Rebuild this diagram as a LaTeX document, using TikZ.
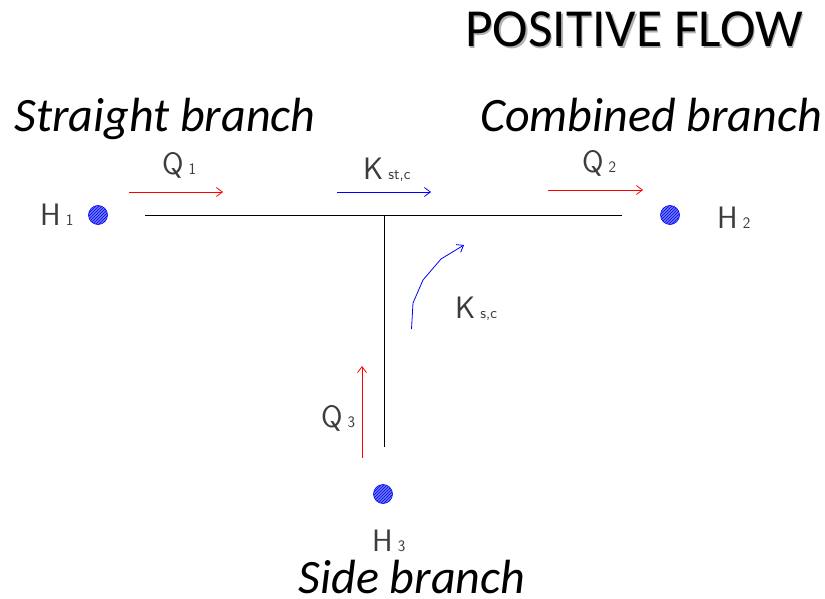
\documentclass[tikz,border=0pt]{standalone}
\usepackage{fontspec}
\setmainfont{Carlito}
\usetikzlibrary{arrows.meta,patterns}
\definecolor{dotblue}{RGB}{110,120,240}
\definecolor{cadgray}{RGB}{60,60,60}
\tikzset{
  pipe/.style={draw=black, line width=1pt},
  flowred/.style={draw=red, line width=0.8pt, -{Straight Barb[length=6pt,width=9pt]}},
  flowblue/.style={draw=blue, line width=0.8pt, -{Straight Barb[length=6pt,width=9pt]}},
  dot/.style={circle, draw=blue, fill=dotblue, minimum size=19pt, inner sep=0pt, line width=0.6pt,
    postaction={pattern=north east lines, pattern color=blue}},
  cad/.style={font=\sffamily\fontsize{31}{31}\selectfont, text=cadgray, inner sep=0pt},
  branch/.style={font=\itshape\fontsize{48}{48}\selectfont, inner sep=0pt},
}
\newcommand{\sbs}[1]{\hspace{5pt}{\fontsize{16}{16}\selectfont #1}}
\begin{document}
\begin{tikzpicture}[x=1pt,y=-1pt]
\useasboundingbox (0,0) rectangle (825,599);
% title with shadow
\node[font=\fontsize{53.5}{53.5}\selectfont, text=gray!60, inner sep=0pt, anchor=base] (titleshadow) at (635.5,48.5) {POSITIVE FLOW};
\node[font=\fontsize{53.5}{53.5}\selectfont, inner sep=0pt, anchor=base] (title) at (634,47) {POSITIVE FLOW};
% branch names
\node[branch, anchor=base] (straight) at (165,132) {Straight branch};
\node[branch, anchor=base] (combined) at (651,132) {Combined branch};
\node[branch, anchor=base, text depth=0pt] (side) at (412,593) {Side branch};
% pipes
\coordinate (pl) at (145,215);
\coordinate (pr) at (622,215);
\coordinate (tj) at (384,215);
\coordinate (pb) at (384,447);
\draw[pipe] (pl) -- (pr);
\draw[pipe] (tj) -- (pb);
% dots
\node[dot] (d1) at (98,215) {};
\node[dot] (d2) at (670,215) {};
\node[dot] (d3) at (383,494) {};
% H labels
\node[cad, anchor=base west] (h1) at (40,225) {H\sbs{1}};
\node[cad, anchor=base west] (h2) at (717,228) {H\sbs{2}};
\node[cad, anchor=base west] (h3) at (372,551) {H\sbs{3}};
% Q labels
\node[cad, anchor=base west] (q1) at (162,175) {Q\sbs{1}};
\node[cad, anchor=base west] (q2) at (582,173) {Q\sbs{2}};
\node[cad, anchor=base west] (q3) at (321,427) {Q\sbs{3}};
% K labels
\node[cad, anchor=base west] (k1) at (363,179) {K\sbs{st,c}};
\node[cad, anchor=base west] (k2) at (455,318) {K\sbs{s,c}};
% arrows
\coordinate (a1s) at (129,192); \coordinate (a1e) at (223,192);
\coordinate (a2s) at (337,192); \coordinate (a2e) at (431,192);
\coordinate (a3s) at (548,190); \coordinate (a3e) at (643,190);
\coordinate (a4s) at (362,458); \coordinate (a4e) at (362,366);
\draw[flowred] (a1s) -- (a1e);
\draw[flowblue] (a2s) -- (a2e);
\draw[flowred] (a3s) -- (a3e);
\draw[flowred] (a4s) -- (a4e);
\coordinate (c1) at (411.5,329);
\coordinate (c2) at (413,303);
\coordinate (c3) at (423,280);
\coordinate (c4) at (441,259);
\coordinate (c5) at (464,245);
\draw[flowblue] (c1) -- (c2) -- (c3) -- (c4) -- (c5);
\end{tikzpicture}
\end{document}
